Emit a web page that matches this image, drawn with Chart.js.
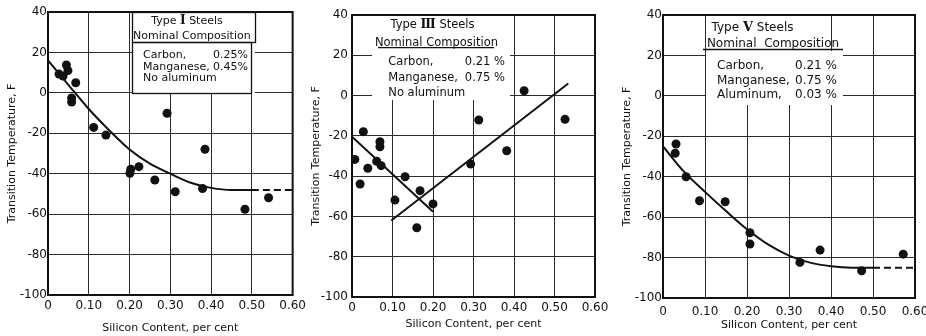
<!DOCTYPE html>
<html>
<head>
<meta charset="utf-8">
<title>Transition Temperature vs Silicon Content</title>
<script src="https://cdn.jsdelivr.net/npm/chart.js@4.4.1/dist/chart.umd.min.js"></script>
<style>
    html, body { margin: 0; padding: 0; background: #fff; overflow: hidden; }
    #wrap { position: relative; width: 926px; height: 336px; overflow: hidden; }
    canvas { position: absolute; top: 0; display: block; }
</style>
</head>
<body>
<div id="wrap">
    <canvas id="chartI" width="310" height="336" style="left:0"></canvas>
    <canvas id="chartIII" width="310" height="336" style="left:305px"></canvas>
    <canvas id="chartV" width="320" height="336" style="left:616px"></canvas>
</div>
<script>
// Axis ticks shared by all three panels
const siliconTicks = [0, 0.1, 0.2, 0.3, 0.4, 0.5, 0.6];
const siliconLabels = ['0', '0.10', '0.20', '0.30', '0.40', '0.50', '0.60'];
const tempTicks = [40, 20, 0, -20, -40, -60, -80, -100];
const tempLabels = ['40', '20', '0', '-20', '-40', '-60', '-80', '-100'];

// Type I steels - test results
const typeISilicon = [0.027, 0.037, 0.045, 0.049, 0.058, 0.058, 0.068, 0.112, 0.142, 0.201, 0.203, 0.223, 0.262, 0.292, 0.312, 0.379, 0.385, 0.483, 0.541];
const typeITemp = [9.3, 8.3, 13.8, 11, -2.5, -4.5, 5, -17.1, -20.9, -39.8, -37.8, -36.5, -43.1, -10.1, -48.9, -47.3, -27.9, -57.6, -51.9];
// Type I fitted curve
const typeICurveSilicon = [0, 0.05, 0.10, 0.15, 0.20, 0.25, 0.30, 0.35, 0.40, 0.45, 0.50, 0.60];
const typeICurveTemp = [16, 4, -8, -18.5, -28, -35, -40, -44.5, -47, -48, -48, -48];

// Type III steels - test results
const typeIIISilicon = [0.007, 0.020, 0.028, 0.039, 0.061, 0.069, 0.069, 0.072, 0.106, 0.131, 0.160, 0.168, 0.200, 0.293, 0.313, 0.382, 0.425, 0.526];
const typeIIITemp = [-31.7, -43.9, -17.9, -36.1, -32.6, -22.9, -25.4, -34.8, -51.9, -40.3, -65.6, -47.2, -53.8, -34, -12.1, -27.4, 2.4, -11.8];
// Type III trend lines (falling and rising branch)
const typeIIIFallSilicon = [0, 0.2];
const typeIIIFallTemp = [-20.4, -57.7];
const typeIIIRiseSilicon = [0.097, 0.534];
const typeIIIRiseTemp = [-62, 6];

// Type V steels - test results
const typeVSilicon = [0.031, 0.029, 0.055, 0.087, 0.148, 0.207, 0.207, 0.326, 0.374, 0.473, 0.572];
const typeVTemp = [-23.8, -28.4, -40, -51.9, -52.4, -67.7, -73.3, -82.4, -76.3, -86.5, -78.3];
// Type V fitted curve
const typeVCurveSilicon = [0, 0.05, 0.10, 0.15, 0.20, 0.25, 0.30, 0.35, 0.40, 0.45, 0.50, 0.60];
const typeVCurveTemp = [-25, -37.5, -47.5, -57, -66, -73.5, -79, -82.5, -84.3, -85, -85, -85];

const ink = '#111';
const gridColor = '#2b2b2b';
const family = '"DejaVu Sans", sans-serif';

function toPoints(xs, ys) {
    return xs.map((x, i) => ({ x: x, y: ys[i] }));
}

function scatterSet(xs, ys) {
    return {
        type: 'scatter',
        data: toPoints(xs, ys),
        pointRadius: 4.5,
        pointHoverRadius: 4.5,
        backgroundColor: ink,
        borderWidth: 0,
        showLine: false
    };
}

function lineSet(xs, ys, smooth) {
    return {
        type: 'line',
        data: toPoints(xs, ys),
        borderColor: ink,
        borderWidth: 2,
        pointRadius: 0,
        fill: false,
        cubicInterpolationMode: smooth ? 'monotone' : 'default',
        tension: 0,
        // the flat tail of the fitted curves is drawn dashed
        segment: {
            borderDash: ctx => (smooth && ctx.p0.parsed.x >= 0.5 ? [7, 4] : undefined)
        }
    };
}

// White panel with the nominal composition text, drawn over the grid
function compositionNote(note) {
    return {
        id: 'compositionNote',
        beforeDatasetsDraw(chart) {
            const { ctx, chartArea: a } = chart;
            ctx.save();
            ctx.fillStyle = '#fff';
            note.clear.forEach(r => ctx.fillRect(a.left + r[0], a.top + r[1], r[2] - r[0], r[3] - r[1]));

            ctx.strokeStyle = ink;
            ctx.lineWidth = 1.3;
            (note.boxes || []).forEach(r => {
                ctx.strokeRect(a.left + r[0] + 0.5, a.top + r[1] + 0.5, r[2] - r[0], r[3] - r[1]);
            });
            if (note.underline) {
                const u = note.underline;
                ctx.beginPath();
                ctx.moveTo(a.left + u[0], a.top + u[2]);
                ctx.lineTo(a.left + u[1], a.top + u[2]);
                ctx.stroke();
            }

            ctx.fillStyle = ink;
            ctx.textBaseline = 'middle';
            const sans = note.size + 'px ' + family;
            const serif = 'bold ' + (note.size + 1) + 'px "DejaVu Serif", serif';

            // "Type <numeral> Steels" with the numeral in a serif face
            const t = note.title;
            ctx.font = sans;
            const w1 = ctx.measureText('Type ').width;
            const w3 = ctx.measureText(' Steels').width;
            ctx.font = serif;
            const w2 = ctx.measureText(t.numeral).width;
            let x = a.left + t.cx - (w1 + w2 + w3) / 2;
            const y = a.top + t.y;
            ctx.textAlign = 'left';
            ctx.font = sans;
            ctx.fillText('Type ', x, y);
            ctx.font = serif;
            ctx.fillText(t.numeral, x + w1, y);
            ctx.font = sans;
            ctx.fillText(' Steels', x + w1 + w2, y);

            const h = note.heading;
            ctx.textAlign = h.align;
            ctx.fillText(h.text, a.left + h.x, a.top + h.y);

            note.rows.forEach(row => {
                ctx.textAlign = 'left';
                ctx.fillText(row.label, a.left + row.x, a.top + row.y);
                if (row.value) {
                    ctx.textAlign = row.valueAlign;
                    ctx.fillText(row.value, a.left + row.valueX, a.top + row.y);
                }
            });
            ctx.restore();
        }
    };
}

// Heavier frame round the plotting area
const plotFrame = {
    id: 'plotFrame',
    afterDatasetsDraw(chart) {
        const { ctx, chartArea: a } = chart;
        ctx.save();
        ctx.strokeStyle = ink;
        ctx.lineWidth = 2;
        ctx.strokeRect(a.left, a.top, a.right - a.left, a.bottom - a.top);
        ctx.restore();
    }
};

function drawPanel(canvasId, datasets, note, layout) {
    const ctx = document.getElementById(canvasId).getContext('2d');
    return new Chart(ctx, {
        type: 'scatter',
        data: { datasets: datasets },
        plugins: [compositionNote(note), plotFrame],
        options: {
            responsive: false,
            animation: false,
            events: [],
            layout: { padding: layout.padding },
            plugins: { legend: { display: false }, tooltip: { enabled: false } },
            scales: {
                x: {
                    type: 'linear',
                    min: 0,
                    max: 0.6,
                    afterBuildTicks: s => { s.ticks = siliconTicks.map(v => ({ value: v })); },
                    afterFit: s => { s.height = layout.xHeight; },
                    grid: { color: gridColor, lineWidth: 1, drawTicks: false },
                    border: { display: false },
                    ticks: {
                        color: ink,
                        font: { family: family, size: 12 },
                        padding: layout.xTickPad,
                        maxRotation: 0,
                        autoSkip: false,
                        callback: (v, i) => siliconLabels[i]
                    },
                    title: {
                        display: true,
                        text: 'Silicon Content, per cent',
                        color: ink,
                        font: { family: family, size: 11 },
                        padding: { top: 0, bottom: layout.xTitlePad }
                    }
                },
                y: {
                    type: 'linear',
                    min: -100,
                    max: 40,
                    afterBuildTicks: s => { s.ticks = tempTicks.slice().reverse().map(v => ({ value: v })); },
                    afterFit: s => { s.width = layout.yWidth; },
                    grid: { color: gridColor, lineWidth: 1, drawTicks: false },
                    border: { display: false },
                    ticks: {
                        color: ink,
                        font: { family: family, size: 12 },
                        padding: layout.yTickPad,
                        autoSkip: false,
                        callback: v => tempLabels[tempTicks.indexOf(v)]
                    },
                    title: {
                        display: true,
                        text: 'Transition Temperature, F',
                        color: ink,
                        font: { family: family, size: 11 },
                        padding: { top: layout.yTitlePad, bottom: 0 }
                    }
                }
            }
        }
    });
}

drawPanel('chartI', [
    scatterSet(typeISilicon, typeITemp),
    lineSet(typeICurveSilicon, typeICurveTemp, true)
], {
    size: 11,
    clear: [[84, 1, 207, 81]],
    boxes: [[84, 0, 207, 30], [84, 30, 203, 81]],
    title: { numeral: 'Ⅰ', cx: 139, y: 9 },
    heading: { text: 'Nominal Composition', x: 85, y: 24, align: 'left' },
    rows: [
        { label: 'Carbon,', value: '0.25%', x: 95, valueX: 200, valueAlign: 'right', y: 43 },
        { label: 'Manganese,', value: '0.45%', x: 95, valueX: 200, valueAlign: 'right', y: 54.7 },
        { label: 'No aluminum', x: 95, y: 65.7 }
    ]
}, { padding: { top: 12, right: 15, left: 0, bottom: 0 }, yWidth: 48, xHeight: 41, xTickPad: 4, xTitlePad: 1, yTickPad: 1, yTitlePad: 6 });

drawPanel('chartIII', [
    scatterSet(typeIIISilicon, typeIIITemp),
    lineSet(typeIIIFallSilicon, typeIIIFallTemp, false),
    lineSet(typeIIIRiseSilicon, typeIIIRiseTemp, false)
], {
    size: 11.5,
    clear: [[20, 1, 158, 85]],
    underline: [26, 142, 32.7],
    title: { numeral: 'Ⅲ', cx: 80.5, y: 10 },
    heading: { text: 'Nominal Composition', x: 84.5, y: 28, align: 'center' },
    rows: [
        { label: 'Carbon,', value: '0.21 %', x: 36.3, valueX: 153, valueAlign: 'right', y: 46.7 },
        { label: 'Manganese,', value: '0.75 %', x: 36.3, valueX: 153, valueAlign: 'right', y: 63.3 },
        { label: 'No aluminum', x: 36.3, y: 78.3 }
    ]
}, { padding: { top: 15, right: 20, left: 0, bottom: 0 }, yWidth: 47, xHeight: 39, xTickPad: 4, xTitlePad: 5, yTickPad: 4, yTitlePad: 5 });

drawPanel('chartV', [
    scatterSet(typeVSilicon, typeVTemp),
    lineSet(typeVCurveSilicon, typeVCurveTemp, true)
], {
    size: 12,
    clear: [[43, 1, 167, 36], [43, 36, 180, 90]],
    underline: [40, 180, 34.5],
    title: { numeral: 'Ⅴ', cx: 89.5, y: 13 },
    heading: { text: 'Nominal  Composition', x: 110, y: 29, align: 'center' },
    rows: [
        { label: 'Carbon,', value: '0.21 %', x: 54, valueX: 132, valueAlign: 'left', y: 51 },
        { label: 'Manganese,', value: '0.75 %', x: 54, valueX: 132, valueAlign: 'left', y: 65.5 },
        { label: 'Aluminum,', value: '0.03 %', x: 54, valueX: 132, valueAlign: 'left', y: 79.7 }
    ]
}, { padding: { top: 15, right: 21, left: 0, bottom: 0 }, yWidth: 47, xHeight: 38, xTickPad: 7, xTitlePad: 4, yTickPad: 1, yTitlePad: 5 });
</script>
</body>
</html>
